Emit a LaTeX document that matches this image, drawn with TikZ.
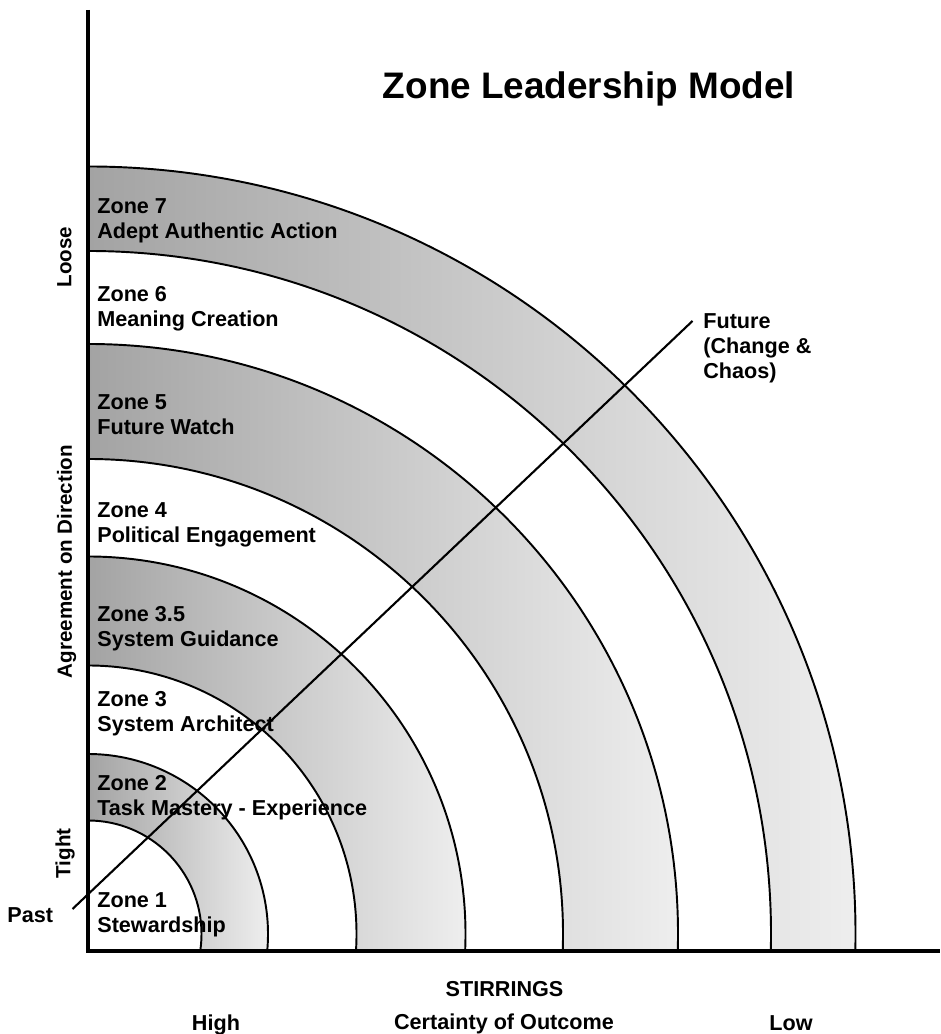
\documentclass[tikz,border=0pt]{standalone}
\usepackage{fontspec}
\setmainfont{Liberation Sans}
\usetikzlibrary{positioning}
\definecolor{D}{RGB}{163, 163, 163}
\definecolor{L}{RGB}{238, 238, 238}

\begin{document}
\begin{tikzpicture}[
	zonetxt/.style={anchor=north west, align=left, inner sep=0pt, font=\bfseries\fontsize{12.3}{14.2}\selectfont},
	axistxt/.style={anchor=base, inner sep=0pt, font=\bfseries\fontsize{12.3}{14.2}\selectfont},
	sidetxt/.style={rotate=90, inner sep=0pt, font=\bfseries\fontsize{11.7}{14}\selectfont},
	ring/.style={line width=1.1pt},
	band/.style={left color=D, right color=L}]
	\useasboundingbox (-1.76,-1.66) rectangle (17.04,19.02);
	\coordinate (c) at (0,0.34);

	%Banda de la zona 7
	\begin{scope}
		\clip (0,0) rectangle (17.04,19.02);
		\clip (c) circle (15.35);
		\shade[band] (0,0) rectangle (15.35,15.7);
		\fill[white] (c) circle (13.66);
	\end{scope}

	%Banda de la zona 5
	\begin{scope}
		\clip (0,0) rectangle (17.04,19.02);
		\clip (c) circle (11.80);
		\shade[band] (0,0) rectangle (11.80,12.15);
		\fill[white] (c) circle (9.50);
	\end{scope}

	%Banda de la zona 3.5
	\begin{scope}
		\clip (0,0) rectangle (17.04,19.02);
		\clip (c) circle (7.55);
		\shade[band] (0,0) rectangle (7.55,7.9);
		\fill[white] (c) circle (5.37);
	\end{scope}

	%Banda de la zona 2
	\begin{scope}
		\clip (0,0) rectangle (17.04,19.02);
		\clip (c) circle (3.60);
		\shade[band] (0,0) rectangle (3.60,3.95);
		\fill[white] (c) circle (2.27);
	\end{scope}

	%Arcos
	\begin{scope}
		\clip (0,0) rectangle (17.04,19.02);
		\foreach \r in {2.27,3.60,5.37,7.55,9.50,11.80,13.66,15.35}
			\draw[ring] (c) circle (\r);
	\end{scope}

	%Ejes
	\draw[line width=2.6pt] (0,18.82) -- (0,0) -- (17.04,0);

	%Linea pasado - futuro
	\coordinate (past) at (-0.31,0.84);
	\coordinate (future) at (12.09,12.6);
	\draw[line width=1.2pt] (past) -- (future);

	%Textos de las zonas
	\node[zonetxt] (z7) at (0.18,15.06) {Zone 7\\Adept Authentic Action};
	\node[zonetxt] (z6) at (0.18,13.29) {Zone 6\\Meaning Creation};
	\node[zonetxt] (z5) at (0.18,11.14) {Zone 5\\Future Watch};
	\node[zonetxt] (z4) at (0.18,8.97) {Zone 4\\Political Engagement};
	\node[zonetxt] (z35) at (0.18,6.89) {Zone 3.5\\System Guidance};
	\node[zonetxt] (z3) at (0.18,5.19) {Zone 3\\System Architect};
	\node[zonetxt] (z2) at (0.18,3.51) {Zone 2\\Task Mastery - Experience};
	\node[zonetxt] (z1) at (0.18,1.17) {Zone 1\\Stewardship};

	\node[zonetxt] (futurelbl) at (12.3,12.75) {Future\\(Change \&\\Chaos)};
	\node[axistxt, anchor=base east] (pastlbl) at (-0.69,0.57) {Past};

	%Titulo
	\node[anchor=base, inner sep=0pt, font=\bfseries\fontsize{21}{25}\selectfont] (title) at (10.02,17.04) {Zone Leadership Model};

	%Ejes: textos
	\node[sidetxt] (loose) at (-0.47,13.88) {Loose};
	\node[sidetxt] (agree) at (-0.43,7.79) {Agreement on Direction};
	\node[sidetxt] (tight) at (-0.46,1.95) {Tight};

	\node[axistxt] (stir) at (8.33,-0.91) {STIRRINGS};
	\node[axistxt] (cert) at (8.32,-1.58) {Certainty of Outcome};
	\node[axistxt] (high) at (2.56,-1.59) {High};
	\node[axistxt] (low) at (14.06,-1.59) {Low};
\end{tikzpicture}
\end{document}
